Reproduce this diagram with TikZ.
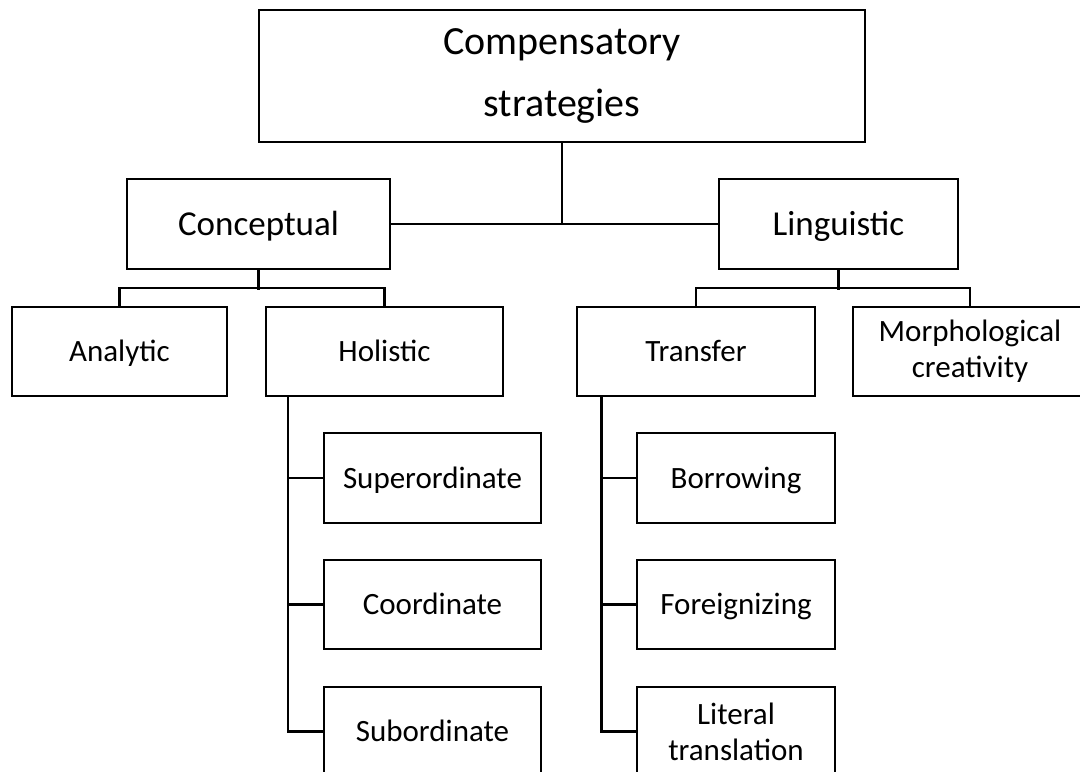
\documentclass[tikz,border=0pt]{standalone}
\usepackage{fontspec}
\setmainfont{Carlito}
\usepackage{tikz}

\begin{document}
\begin{tikzpicture}[x=0.5pt, y=0.5pt, line width=1.2pt,
    box/.style={draw, rectangle, inner sep=0pt, minimum height=44.5pt,
                text height=13pt, text depth=3pt, font=\fontsize{15.5}{18}\selectfont},
    twoline/.style={draw, rectangle, inner sep=0pt, align=center, minimum height=44.5pt,
                font=\fontsize{15.5}{18}\selectfont},
    midbox/.style={box, minimum height=45pt, text height=14.5pt, text depth=3.2pt,
                font=\fontsize{17.5}{21}\selectfont}]

        \useasboundingbox (0,0) rectangle (1080,-771);

        % TOP BOX
        \node[draw, rectangle, inner sep=0pt, minimum width=303pt, minimum height=66pt, align=center,
              font=\fontsize{20}{31}\selectfont] (strat) at (562,-76) {Compensatory\\strategies};

        % SECOND LEVEL
        \node[midbox, minimum width=131.5pt] (concept) at (258.5,-224) {Conceptual};
        \node[midbox, minimum width=119.5pt] (ling) at (838.5,-224) {Linguistic};

        \draw (strat.south) -- (strat.south |- concept.east);
        \draw (concept.east) -- (ling.west);

        % THIRD LEVEL
        \node[box, minimum width=107.5pt] (analytic) at (119.5,-351.5) {Analytic};
        \node[box, minimum width=118.5pt] (holistic) at (384.5,-351.5) {Holistic};
        \node[box, minimum width=119pt] (transfer) at (696,-351.5) {Transfer};
        \node[twoline, minimum width=117pt] (morph) at (970,-351.5) {Morphological\\creativity};

        \draw (analytic.north) -- ++(0,18) -| (holistic.north);
        \draw (concept.south) -- ++(0,-20);
        \draw (transfer.north) -- ++(0,18) -| (morph.north);
        \draw (ling.south) -- ++(0,-20);

        % FOURTH LEVEL
        \node[box, minimum width=108.5pt, minimum height=45pt] (super) at (432.5,-478) {Superordinate};
        \node[box, minimum width=108.5pt] (coord) at (432.5,-604.5) {Coordinate};
        \node[box, minimum width=108.5pt] (sub) at (432.5,-731.5) {Subordinate};

        \node[box, minimum width=99pt, minimum height=45pt] (borrow) at (736,-478) {Borrowing};
        \node[box, minimum width=99pt] (foreign) at (736,-604.5) {Foreignizing};
        \node[twoline, minimum width=99pt] (literal) at (736,-731.5) {Literal\\translation};

        \draw (holistic.south west) ++(23,0) coordinate (htrunk) |- (sub.west);
        \draw (htrunk |- super.west) -- (super.west);
        \draw (htrunk |- coord.west) -- (coord.west);

        \draw (transfer.south west) ++(25.5,0) coordinate (ttrunk) |- (literal.west);
        \draw (ttrunk |- borrow.west) -- (borrow.west);
        \draw (ttrunk |- foreign.west) -- (foreign.west);
    \end{tikzpicture}
\end{document}
